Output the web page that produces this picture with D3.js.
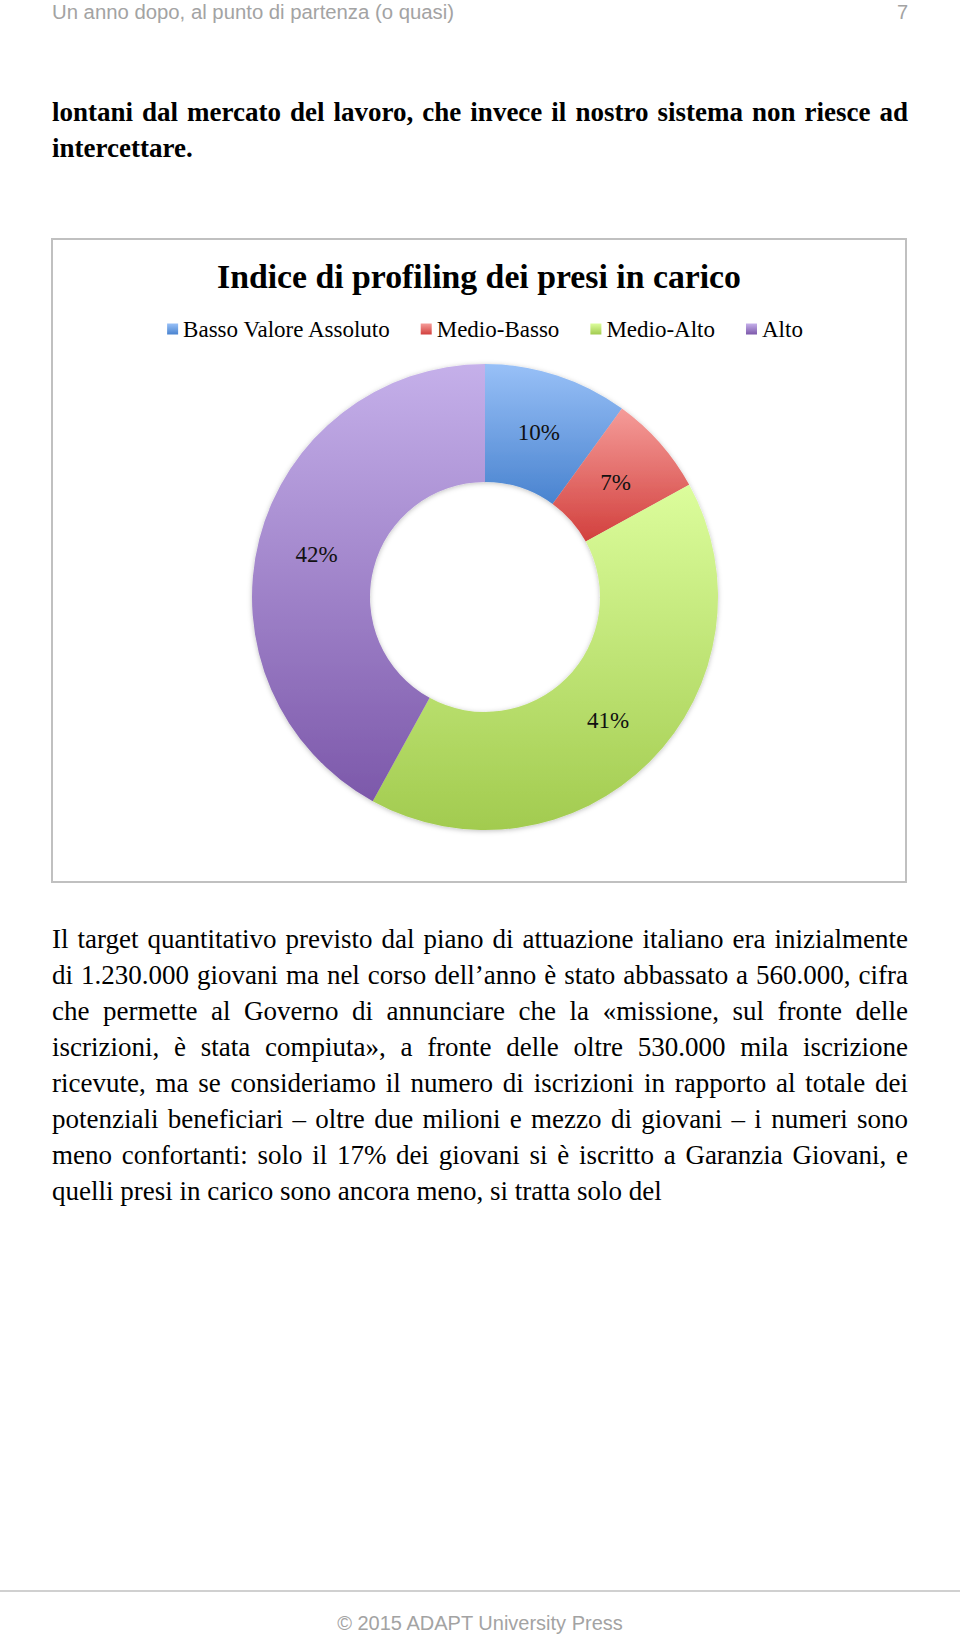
<!DOCTYPE html>
<html>
<head>
<meta charset="utf-8">
<script src="https://cdn.jsdelivr.net/npm/d3@7"></script>
<style>
  body { margin: 0; background: #fff; }
  svg { display: block; }
</style>
</head>
<body>
<script>
// page texts
const pageHeader = "Un anno dopo, al punto di partenza (o quasi)";
const pageNumber = "7";
const leadLines = [
  "lontani dal mercato del lavoro, che invece il nostro sistema non riesce ad",
  "intercettare."
];
const bodyLines = [
  "Il target quantitativo previsto dal piano di attuazione italiano era inizialmente",
  "di 1.230.000 giovani ma nel corso dell\u2019anno \u00e8 stato abbassato a 560.000, cifra",
  "che permette al Governo di annunciare che la \u00abmissione, sul fronte delle",
  "iscrizioni, \u00e8 stata compiuta\u00bb, a fronte delle oltre 530.000 mila iscrizione",
  "ricevute, ma se consideriamo il numero di iscrizioni in rapporto al totale dei",
  "potenziali beneficiari \u2013 oltre due milioni e mezzo di giovani \u2013 i numeri sono",
  "meno confortanti: solo il 17% dei giovani si \u00e8 iscritto a Garanzia Giovani, e",
  "quelli presi in carico sono ancora meno, si tratta solo del"
];
const footerText = "\u00a9 2015 ADAPT University Press";

// chart data
const chartTitle = "Indice di profiling dei presi in carico";
const categories = ["Basso Valore Assoluto", "Medio-Basso", "Medio-Alto", "Alto"];
const values = [10, 7, 41, 42];

// gradient colours (top -> bottom)
const topColors = ["#98c0f7", "#f59c99", "#dcfd9c", "#c5b0ea"];
const bottomColors = ["#4983cf", "#d2403d", "#a2cb4f", "#7c58aa"];

const W = 960, H = 1635;
const left = 52, right = 908;

const svg = d3.select("body").append("svg")
  .attr("width", W)
  .attr("height", H);

const defs = svg.append("defs");

categories.forEach((c, i) => {
  const g = defs.append("linearGradient")
    .attr("id", "grad" + i)
    .attr("x1", 0).attr("y1", 0).attr("x2", 0).attr("y2", 1);
  g.append("stop").attr("offset", "0%").attr("stop-color", topColors[i]);
  g.append("stop").attr("offset", "100%").attr("stop-color", bottomColors[i]);
});

const shadow = defs.append("filter")
  .attr("id", "shadow")
  .attr("x", "-10%").attr("y", "-10%")
  .attr("width", "120%").attr("height", "120%");
shadow.append("feDropShadow")
  .attr("dx", 0).attr("dy", 1)
  .attr("stdDeviation", 2.5)
  .attr("flood-color", "#000")
  .attr("flood-opacity", 0.25);

// writes a line with words spread from left to right
function justifiedLine(parent, line, y, font, fontSize, justify) {
  const words = line.split(" ");
  const t = parent.append("text")
    .attr("y", y)
    .style("font", font)
    .attr("fill", "#000");
  const spans = t.selectAll("tspan")
    .data(words)
    .enter()
    .append("tspan")
    .text((d) => d);
  const widths = [];
  spans.each(function() { widths.push(this.getComputedTextLength()); });
  const total = d3.sum(widths);
  let gap = fontSize * 0.25;
  if (justify) gap = (right - left - total) / Math.max(1, words.length - 1);
  let x = left;
  spans.each(function(d, i) {
    d3.select(this).attr("x", x);
    x += widths[i] + gap;
  });
}

// running header
svg.append("text")
  .attr("x", left)
  .attr("y", 19)
  .attr("textLength", 402)
  .attr("lengthAdjust", "spacingAndGlyphs")
  .style("font", "20px 'Liberation Sans', Arial, sans-serif")
  .attr("fill", "#a3a3a3")
  .text(pageHeader);

svg.append("text")
  .attr("x", right)
  .attr("y", 19)
  .attr("text-anchor", "end")
  .style("font", "20px 'Liberation Sans', Arial, sans-serif")
  .attr("fill", "#a3a3a3")
  .text(pageNumber);

// bold lead lines
const lead = svg.append("g");
leadLines.forEach((l, i) => {
  justifiedLine(lead, l, 121 + i * 36, "bold 27px 'Liberation Serif', 'Times New Roman', serif", 27, i < leadLines.length - 1);
});

// chart frame
svg.append("rect")
  .attr("x", 52)
  .attr("y", 239)
  .attr("width", 854)
  .attr("height", 643)
  .attr("fill", "#fff")
  .attr("stroke", "#c0c0c0")
  .attr("stroke-width", 2);

svg.append("text")
  .attr("x", 479)
  .attr("y", 288)
  .attr("text-anchor", "middle")
  .attr("textLength", 524)
  .attr("lengthAdjust", "spacingAndGlyphs")
  .style("font", "bold 34px 'Liberation Serif', Cambria, serif")
  .attr("fill", "#000")
  .text(chartTitle);

// legend
const legend = svg.append("g").attr("transform", "translate(0,329)");
const items = legend.selectAll("g")
  .data(categories)
  .enter()
  .append("g");

items.append("rect")
  .attr("y", -5.5)
  .attr("width", 11)
  .attr("height", 11)
  .attr("fill", (d, i) => `url(#grad${i})`);

items.append("text")
  .attr("x", 16)
  .attr("y", 7.5)
  .style("font", "23px 'Liberation Serif', Cambria, serif")
  .attr("fill", "#000")
  .text((d) => d);

const itemW = [];
items.each(function() { itemW.push(this.getBBox().width); });
const legendGap = 31;
const legendTotal = d3.sum(itemW) + legendGap * (itemW.length - 1);
let lx = 485 - legendTotal / 2;
items.each(function(d, i) {
  d3.select(this).attr("transform", `translate(${lx},0)`);
  lx += itemW[i] + legendGap;
});

// donut
const cx = 485, cy = 597;
const outerR = 233, innerR = 115;

const pie = d3.pie().sort(null).value((d) => d);
const arc = d3.arc().innerRadius(innerR).outerRadius(outerR);
const color = d3.scaleOrdinal()
  .domain(d3.range(categories.length))
  .range(categories.map((c, i) => `url(#grad${i})`));

const donut = svg.append("g")
  .attr("transform", `translate(${cx},${cy})`);

const slices = donut.append("g").attr("filter", "url(#shadow)");
slices.selectAll("path")
  .data(pie(values))
  .enter()
  .append("path")
  .attr("d", arc)
  .attr("fill", (d, i) => color(i));

donut.selectAll("text")
  .data(pie(values))
  .enter()
  .append("text")
  .attr("transform", (d) => `translate(${arc.centroid(d)})`)
  .attr("text-anchor", "middle")
  .attr("dy", "0.35em")
  .style("font", "23px 'Liberation Serif', Cambria, serif")
  .attr("fill", "#111")
  .text((d) => `${d.data}%`);

// body text
const body = svg.append("g");
bodyLines.forEach((l, i) => {
  justifiedLine(body, l, 947.5 + i * 36, "27px 'Liberation Serif', 'Times New Roman', serif", 27, i < bodyLines.length - 1);
});

// footer
svg.append("line")
  .attr("x1", 0).attr("x2", W)
  .attr("y1", 1591).attr("y2", 1591)
  .attr("stroke", "#d0d0d0")
  .attr("stroke-width", 2);

svg.append("text")
  .attr("x", 480)
  .attr("y", 1630)
  .attr("text-anchor", "middle")
  .style("font", "20px 'Liberation Sans', Arial, sans-serif")
  .attr("fill", "#a3a3a3")
  .text(footerText);
</script>
</body>
</html>
